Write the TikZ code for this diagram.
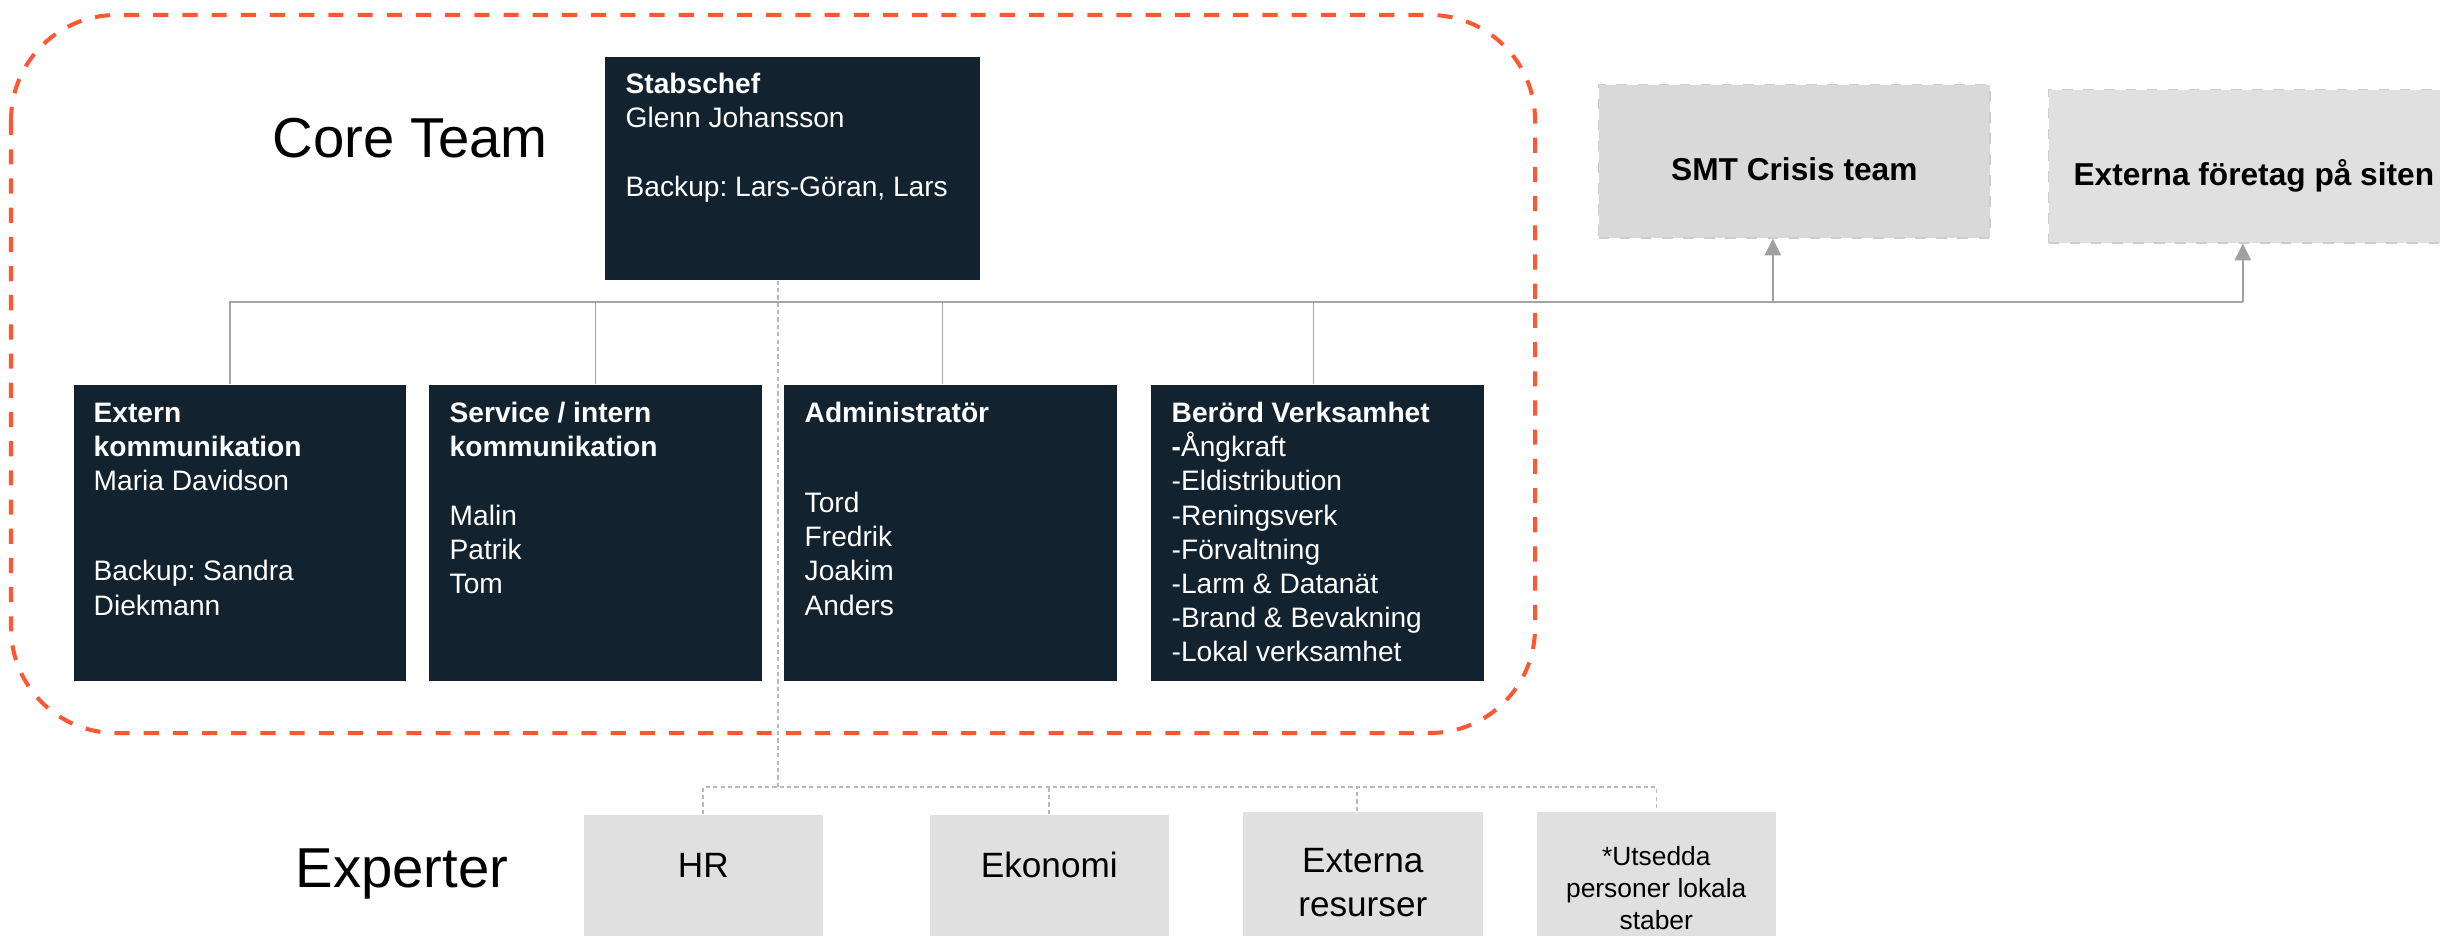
\documentclass[tikz,border=0pt]{standalone}
\usepackage{fontspec}
\setmainfont{Liberation Sans}
\usetikzlibrary{calc,arrows.meta}
\definecolor{navy}{RGB}{18,35,47}
\definecolor{orng}{RGB}{255,87,51}
\definecolor{lgray}{RGB}{224,224,224}
\definecolor{mgray}{RGB}{217,217,217}
\definecolor{lineg}{RGB}{165,165,165}
\definecolor{arrg}{RGB}{160,160,160}
\definecolor{dashg}{RGB}{185,185,185}
\definecolor{bordg}{RGB}{205,205,205}
\newcommand{\fl}[1]{\rule{0pt}{#1}}
\frenchspacing
\begin{document}
\begin{tikzpicture}[x=0.01cm,y=-0.01cm,
  darkbox/.style={fill=navy, draw=none, anchor=north west, inner sep=0pt, minimum height=2.96cm},
  boxtext/.style={anchor=north west, inner sep=0pt, text=white, align=left, font=\fontsize{8pt}{9.7pt}\selectfont},
  gbox/.style={fill=lgray, draw=none, anchor=north west, inner sep=0pt, minimum width=2.39cm, minimum height=1.5cm},
  gtext/.style={inner sep=0pt, align=center, font=\fontsize{10pt}{12.5pt}\selectfont},
  topbox/.style={draw=bordg, dashed, line width=0.4pt, anchor=north west, inner sep=0pt, minimum height=1.53cm},
  toptext/.style={inner sep=0pt, anchor=base, font=\fontsize{9pt}{11pt}\selectfont\bfseries},
  title/.style={anchor=base west, inner sep=0pt, font=\fontsize{16pt}{19pt}\selectfont},
  conn/.style={draw=lineg, line width=0.45pt},
  arr/.style={draw=arrg, line width=0.6pt, -{Triangle[width=4.6pt,length=4.8pt]}},
  dconn/.style={draw=dashg, line width=0.45pt, dash pattern=on 1.2pt off 0.9pt},
  coreline/.style={draw=orng, line width=1.15pt, dash pattern=on 4.3pt off 4pt, rounded corners=1.05cm}
]
\useasboundingbox (0,0) rectangle (2440,935);
\clip (0,0) rectangle (2440,935);

% ---- titles
\node[title] (core) at (272,157) {Core Team};
\node[title] (exp) at (295,887) {Experter};

% ---- Stabschef
\node[darkbox, minimum width=3.75cm, minimum height=2.23cm] (stab) at (604,56) {};
\node[boxtext] (stabt) at ($(stab.north west)+(21,10.6)$)
  {\fl{7.5pt}\textbf{Stabschef}\\Glenn Johansson\\[9.7pt]Backup: Lars-Göran, Lars};

% ---- core team boxes
\node[darkbox, minimum width=3.32cm] (ext) at (73,384) {};
\node[boxtext] (extt) at ($(ext.north west)+(20,11.6)$)
  {\fl{7.5pt}\textbf{Extern}\\\textbf{kommunikation}\\Maria Davidson\\[15.9pt]Backup: Sandra\\Diekmann};

\node[darkbox, minimum width=3.33cm] (svc) at (428,384) {};
\node[boxtext] (svct) at ($(svc.north west)+(21,11.6)$)
  {\fl{7.5pt}\textbf{Service / intern}\\\textbf{kommunikation}\\[9.7pt]Malin\\Patrik\\Tom};

\node[darkbox, minimum width=3.33cm] (adm) at (783,384) {};
\node[boxtext] (admt) at ($(adm.north west)+(21,11.6)$)
  {\fl{7.5pt}\textbf{Administratör}\\[15.9pt]Tord\\Fredrik\\Joakim\\Anders};

\node[darkbox, minimum width=3.33cm] (ber) at (1150,384) {};
\node[boxtext] (bert) at ($(ber.north west)+(21,11.6)$)
  {\fl{7.5pt}\textbf{Berörd Verksamhet}\\\textbf{-}Ångkraft\\-Eldistribution\\-Reningsverk\\-Förvaltning\\-Larm \& Datanät\\-Brand \& Bevakning\\-Lokal verksamhet};

% ---- top right boxes
\node[topbox, fill=mgray, minimum width=3.91cm] (smt) at (1598,84) {};
\node[toptext] (smtt) at ($(smt.north)+(0,96)$) {SMT Crisis team};
\node[topbox, fill=lgray, minimum width=4.10cm] (extf) at (2048,89) {};
\node[toptext] (extft) at ($(extf.north)+(0,96)$) {Externa företag på siten};

% ---- experter boxes
\node[gbox] (hr) at (583,814) {};
\node[gtext, anchor=base] (hrt) at ($(hr.north)+(0,63)$) {HR};
\node[gbox] (eko) at (929,814) {};
\node[gtext, anchor=base] (ekot) at ($(eko.north)+(0,63)$) {Ekonomi};
\node[gbox, minimum width=2.40cm] (exr) at (1242,811) {};
\node[gtext, anchor=north] (exrt) at ($(exr.north)+(0,29.4)$) {\fl{9pt}Externa\\resurser};
\node[gbox] (uts) at (1536,811) {};
\node[gtext, anchor=north, font=\fontsize{7.5pt}{9pt}\selectfont] (utst) at ($(uts.north)+(0,29.4)$)
  {\fl{7pt}*Utsedda\\personer lokala\\staber};

% ---- core connectors
\coordinate (bus) at (229,302);
\coordinate (extc) at ($(ext.north)+(-10,0)$);
\coordinate (admc) at ($(adm.north)+(-8,0)$);
\coordinate (berc) at ($(ber.north)+(-4,0)$);
\coordinate (smtc) at ($(smt.south)+(-21.5,0)$);
\coordinate (extfc) at ($(extf.south)+(-11,0)$);
\draw[conn] (extc) -- (extc |- bus) -- (extfc |- bus);
\draw[conn] (svc.north) -- (svc.north |- bus);
\draw[conn] (admc) -- (admc |- bus);
\draw[conn] (berc) -- (berc |- bus);
\draw[arr] (smtc |- bus) -- (smtc);
\draw[arr] (extfc |- bus) -- (extfc);

% ---- experter connectors
\coordinate (stabc) at ($(stab.south)+(-14.5,0)$);
\coordinate (eb) at (777,787);
\coordinate (exrc) at ($(exr.north)+(-6,0)$);
\draw[dconn] (stabc) -- (stabc |- eb);
\draw[dconn] (hr.north) -- (hr.north |- eb) -- (uts.north |- eb) -- (uts.north);
\draw[dconn] (eko.north) -- (eko.north |- eb);
\draw[dconn] (exrc) -- (exrc |- eb);

% ---- core team frame
\draw[coreline] (11,15) rectangle (1535,733);
\end{tikzpicture}
\end{document}
